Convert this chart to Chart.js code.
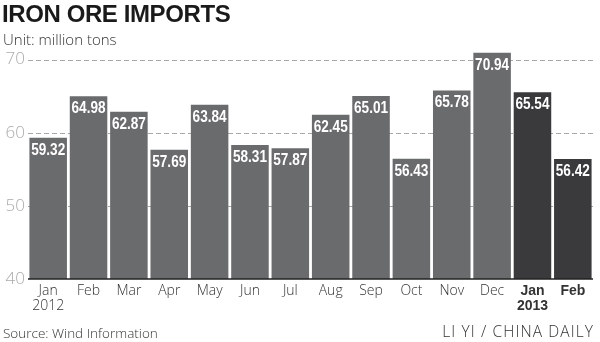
<!DOCTYPE html>
<html>
<head>
<meta charset="utf-8">
<script src="https://cdn.jsdelivr.net/npm/chart.js@4/dist/chart.umd.min.js"></script>
<style>
  html, body { margin: 0; padding: 0; background: #fff; }
  #wrap { position: relative; width: 600px; height: 342px; overflow: hidden; font-family: "Liberation Sans", Arial, sans-serif; }
  #chart { position: absolute; left: 0; top: 0; }
  .t { position: absolute; white-space: nowrap; }
  #title { left: 2px; top: 0px; font-family: "Liberation Sans", Arial, sans-serif; font-weight: bold; font-size: 24px; color: #1a1a1a; letter-spacing: -0.4px; }
  #unit { left: 3px; top: 29px; font-size: 15px; color: #333; font-family: "Open Sans", "Liberation Sans", sans-serif; font-weight: 300; }
  #source { left: 3px; top: 324px; font-size: 13.5px; color: #333; font-family: "Open Sans", "Liberation Sans", sans-serif; font-weight: 300; }
  #credit { right: 6px; top: 320px; font-size: 15.5px; color: #333; font-family: "Open Sans", "Liberation Sans", sans-serif; font-weight: 300; letter-spacing: 1.1px; }
</style>
</head>
<body>
<div id="wrap">
  <canvas id="chart" width="600" height="342"></canvas>
  <div class="t" id="title">IRON ORE IMPORTS</div>
  <div class="t" id="unit">Unit: million tons</div>
  <div class="t" id="source">Source: Wind Information</div>
  <div class="t" id="credit">LI YI / CHINA DAILY</div>
</div>
<script>
// Monthly iron ore imports, million tons
const months = [["Jan", "2012"], "Feb", "Mar", "Apr", "May", "Jun", "Jul", "Aug", "Sep", "Oct", "Nov", "Dec", ["Jan", "2013"], "Feb"];
const imports = [59.32, 64.98, 62.87, 57.69, 63.84, 58.31, 57.87, 62.45, 65.01, 56.43, 65.78, 70.94, 65.54, 56.42];
const yTicks = [40, 50, 60, 70];
const firstOf2013 = 12;

const GREY = "#6a6b6d";
const DARK = "#3a3a3c";

// Writes each value in white just inside the top of its bar, in a narrowed bold face
const valueLabels = {
  id: "valueLabels",
  afterDatasetsDraw(chart) {
    const ctx = chart.ctx;
    const meta = chart.getDatasetMeta(0);
    meta.data.forEach((bar, i) => {
      ctx.save();
      ctx.translate(bar.x, bar.y + 17);
      ctx.scale(0.8, 1);
      ctx.fillStyle = "#ffffff";
      ctx.font = "bold 17px 'Liberation Sans', Arial, sans-serif";
      ctx.textAlign = "center";
      ctx.textBaseline = "alphabetic";
      ctx.fillText(imports[i].toFixed(2), 0, 0);
      ctx.restore();
    });
  }
};

// Dashed grid lines at the upper ticks, solid baseline at the bottom
const gridLines = {
  id: "gridLines",
  beforeDatasetsDraw(chart) {
    const ctx = chart.ctx;
    const y = chart.scales.y;
    const area = chart.chartArea;
    ctx.save();
    ctx.strokeStyle = "#a8a8a8";
    ctx.lineWidth = 1;
    ctx.setLineDash([5, 3]);
    yTicks.slice(1).forEach(v => {
      const py = Math.round(y.getPixelForValue(v)) + 0.5;
      ctx.beginPath();
      ctx.moveTo(area.left, py);
      ctx.lineTo(area.right, py);
      ctx.stroke();
    });
    ctx.restore();
  },
  afterDatasetsDraw(chart) {
    const ctx = chart.ctx;
    const y = chart.scales.y;
    const area = chart.chartArea;
    ctx.save();
    ctx.strokeStyle = "#222";
    ctx.lineWidth = 1.5;
    const py = y.getPixelForValue(yTicks[0]);
    ctx.beginPath();
    ctx.moveTo(area.left, py);
    ctx.lineTo(area.right, py);
    ctx.stroke();
    ctx.restore();
  }
};

new Chart(document.getElementById("chart"), {
  type: "bar",
  data: {
    labels: months,
    datasets: [{
      data: imports,
      backgroundColor: imports.map((_, i) => i >= firstOf2013 ? DARK : GREY),
      borderWidth: 0,
      barPercentage: 0.93,
      categoryPercentage: 1.0
    }]
  },
  options: {
    responsive: false,
    animation: false,
    events: [],
    layout: { padding: { top: 45, right: 7, left: 0, bottom: 0 } },
    plugins: { legend: { display: false }, tooltip: { enabled: false }, title: { display: false } },
    scales: {
      x: {
        grid: { display: false, drawTicks: false },
        border: { display: false },
        ticks: {
          color: "#333",
          padding: 4,
          maxRotation: 0,
          autoSkip: false,
          font: ctx => ({
            family: ctx.index >= firstOf2013 ? "'Liberation Sans', sans-serif" : "'Open Sans', 'Liberation Sans', sans-serif",
            size: 14,
            weight: ctx.index >= firstOf2013 ? "bold" : "300",
            lineHeight: 1.1
          })
        },
        afterFit(scale) { scale.height = 63; }
      },
      y: {
        min: 40,
        max: 72,
        grid: { display: false, drawTicks: false },
        border: { display: false },
        afterBuildTicks(scale) { scale.ticks = yTicks.map(v => ({ value: v })); },
        ticks: {
          color: "#aaa",
          padding: 3,
          font: { family: "'Open Sans', 'Liberation Sans', sans-serif", size: 17, weight: "300" }
        },
        afterFit(scale) { scale.width = 28; }
      }
    }
  },
  plugins: [gridLines, valueLabels]
});
</script>
</body>
</html>
